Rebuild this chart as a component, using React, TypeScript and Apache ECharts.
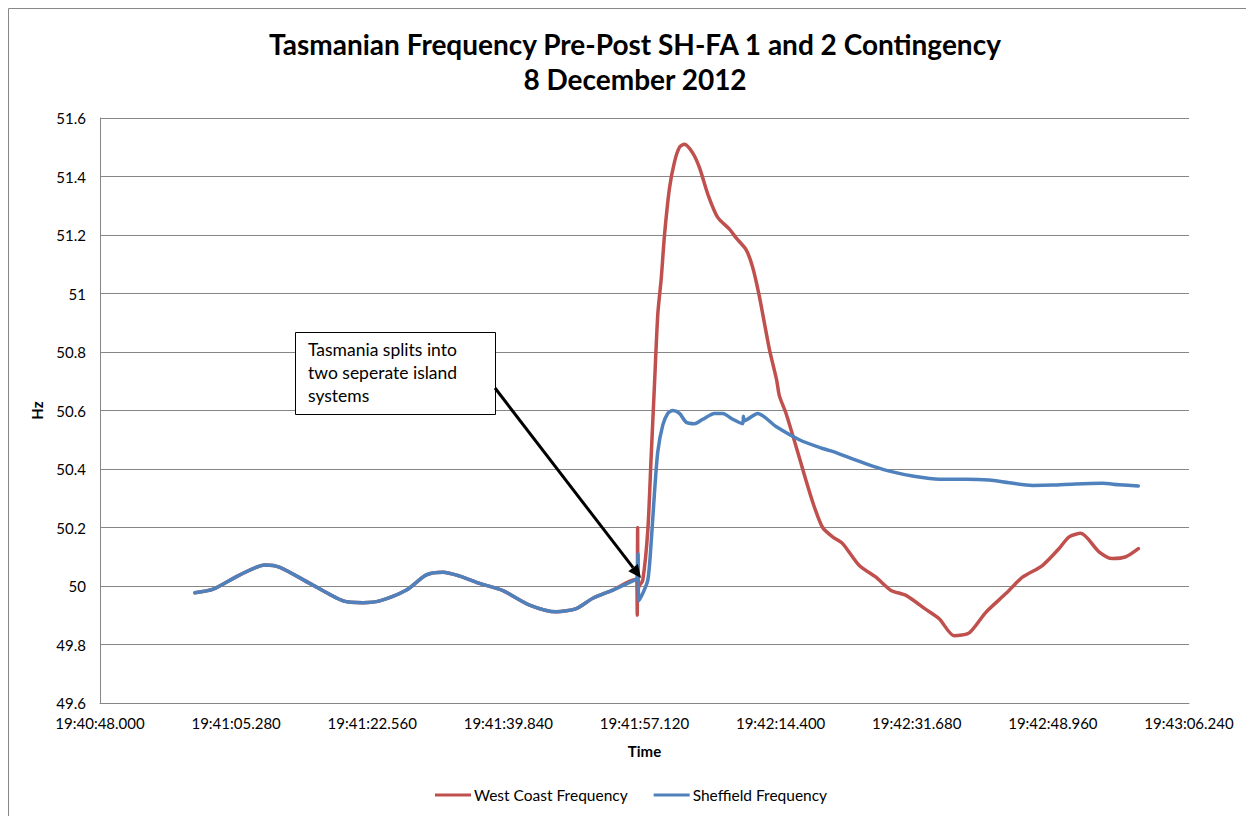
import React, { useEffect, useRef } from "react";
import * as echarts from "echarts";

// Time is stored as seconds after 19:40:48.000
const START_LABEL_SECONDS = 19 * 3600 + 40 * 60 + 48;
const X_MIN = 0;
const X_MAX = 138.24;
const X_INTERVAL = 17.28;
const Y_MIN = 49.6;
const Y_MAX = 51.6;
const Y_INTERVAL = 0.2;

// Before the split, both recorders read the same frequency
const preEventTimes = [12.05, 14.37, 17.76, 20.93, 22.83, 26.63, 30.86, 33.39, 35.51, 38.9, 41.43, 43.54, 45.66, 48.19, 51.15, 54.53, 57.92, 60.46, 62.56, 65.1, 68.07];
const preEventHz = [49.977, 49.989, 50.038, 50.072, 50.064, 50.009, 49.949, 49.943, 49.949, 49.986, 50.038, 50.047, 50.034, 50.009, 49.984, 49.935, 49.912, 49.923, 49.958, 49.986, 50.023];

const westCoastTimes = [68.15, 68.2, 68.25, 68.3, 68.45, 68.9, 69.54, 69.96, 70.39, 70.81, 71.24, 71.66, 72.29, 72.93, 73.56, 74.19, 75.25, 76.1, 77.15, 78.41, 79.9, 80.75, 82.01, 82.85, 83.7, 84.97, 85.89, 86.24, 87.09, 88.36, 89.63, 90.68, 91.73, 93.0, 94.27, 96.39, 98.5, 100.41, 102.31, 104.84, 106.53, 108.43, 110.34, 112.45, 114.99, 117.1, 119.63, 121.75, 123.02, 124.5, 126.82, 128.51, 130.21, 131.81];
const westCoastHz = [50.02, 49.9, 50.2, 49.99, 50.0, 50.02, 50.19, 50.44, 50.69, 50.93, 51.05, 51.2, 51.36, 51.45, 51.5, 51.51, 51.48, 51.43, 51.34, 51.26, 51.22, 51.19, 51.15, 51.09, 50.99, 50.81, 50.705, 50.65, 50.59, 50.477, 50.36, 50.27, 50.2, 50.168, 50.145, 50.07, 50.03, 49.985, 49.968, 49.92, 49.888, 49.83, 49.84, 49.91, 49.974, 50.03, 50.07, 50.128, 50.168, 50.18, 50.117, 50.094, 50.1, 50.128];

const sheffieldTimes = [68.2, 68.3, 68.4, 68.99, 69.54, 69.84, 70.39, 70.81, 71.44, 72.07, 72.71, 73.56, 74.41, 75.46, 76.52, 78.0, 79.05, 80.32, 81.59, 81.68, 81.8, 83.49, 85.82, 88.77, 91.73, 93.0, 95.97, 98.07, 100.61, 103.14, 106.53, 109.92, 112.87, 115.41, 118.36, 120.9, 123.87, 127.24, 129.36, 131.81];
const sheffieldHz = [50.03, 50.11, 49.95, 49.98, 50.02, 50.1, 50.32, 50.46, 50.55, 50.59, 50.6, 50.59, 50.56, 50.555, 50.57, 50.59, 50.59, 50.57, 50.555, 50.58, 50.565, 50.59, 50.545, 50.5, 50.47, 50.46, 50.43, 50.41, 50.39, 50.376, 50.365, 50.365, 50.362, 50.353, 50.344, 50.345, 50.349, 50.351, 50.346, 50.342];

const titleLines = ["Tasmanian Frequency Pre-Post SH-FA 1 and 2 Contingency", "8 December 2012"];
const annotationLines = ["Tasmania splits into", "two seperate island", "systems"];

const RED = "#C0504D";
const BLUE = "#4F81BD";
const GRID = "#868686";
const FONT = "Lato, 'Open Sans', sans-serif";

function pad(n: number, w: number) {
  let s = String(n);
  while (s.length < w) s = "0" + s;
  return s;
}

function formatTime(sec: number) {
  const ms = Math.round((START_LABEL_SECONDS + sec) * 1000);
  const h = Math.floor(ms / 3600000);
  const m = Math.floor((ms % 3600000) / 60000);
  const s = Math.floor((ms % 60000) / 1000);
  const milli = ms % 1000;
  return `${h}:${pad(m, 2)}:${pad(s, 2)}.${pad(milli, 3)}`;
}

function zip(t: number[], v: number[]) {
  return t.map((x, i) => [x, v[i]]);
}

export default function App() {
  const ref = useRef<HTMLDivElement>(null);

  useEffect(() => {
    if (!ref.current) return;
    const chart = echarts.init(ref.current, null, { renderer: "svg" });

    const westData = zip(preEventTimes, preEventHz).concat(zip(westCoastTimes, westCoastHz));
    const sheffData = zip(preEventTimes, preEventHz).concat(zip(sheffieldTimes, sheffieldHz));

    // arrow geometry (annotation)
    const ax0 = 495, ay0 = 388, ax1 = 641, ay1 = 578;
    const len = Math.hypot(ax1 - ax0, ay1 - ay0);
    const dx = (ax1 - ax0) / len, dy = (ay1 - ay0) / len;
    const px = -dy, py = dx;
    const headL = 13, headW = 6;
    const bx = ax1 - dx * headL, by = ay1 - dy * headL;

    const titleStyle = { fontFamily: FONT, fontSize: 28, fontWeight: "bold", color: "#000", lineHeight: 35 };

    chart.setOption({
      animation: false,
      backgroundColor: "#ffffff",
      textStyle: { fontFamily: FONT },
      title: titleLines.map((t, i) => ({
        text: t,
        left: 630,
        textAlign: "center",
        top: 21 + i * 35,
        padding: 5,
        textStyle: titleStyle,
      })),
      grid: { left: 100, right: 57, top: 118, bottom: 113, containLabel: false },
      legend: {
        bottom: 8,
        left: 430,
        padding: 5,
        icon: "rect",
        itemWidth: 36,
        itemHeight: 3,
        itemGap: 26,
        textStyle: { fontFamily: FONT, fontSize: 15.5, color: "#000", padding: [0, 0, 0, -2] },
        data: ["West Coast Frequency", "Sheffield Frequency"],
      },
      xAxis: {
        type: "value",
        min: X_MIN,
        max: X_MAX,
        interval: X_INTERVAL,
        name: "Time",
        nameLocation: "middle",
        nameGap: 40,
        nameTextStyle: { fontFamily: FONT, fontSize: 15, fontWeight: "bold", color: "#000" },
        axisLine: { lineStyle: { color: GRID, width: 1 } },
        axisTick: { show: false },
        splitLine: { show: false },
        axisLabel: {
          formatter: (v: number) => formatTime(v),
          fontFamily: FONT,
          fontSize: 15,
          color: "#000",
          margin: 12,
          showMaxLabel: true,
          showMinLabel: true,
        },
      },
      yAxis: {
        type: "value",
        min: Y_MIN,
        max: Y_MAX,
        interval: Y_INTERVAL,
        name: "Hz",
        nameLocation: "middle",
        nameGap: 56,
        nameRotate: 90,
        nameTextStyle: { fontFamily: FONT, fontSize: 15, fontWeight: "bold", color: "#000" },
        axisLine: { show: true, lineStyle: { color: GRID, width: 1 } },
        axisTick: { show: false },
        splitLine: { show: true, lineStyle: { color: GRID, width: 1 } },
        axisLabel: {
          formatter: (v: number) => String(Math.round(v * 10) / 10),
          fontFamily: FONT,
          fontSize: 15,
          color: "#000",
          margin: 14,
        },
      },
      series: [
        {
          name: "West Coast Frequency",
          type: "line",
          data: westData,
          showSymbol: false,
          symbol: "none",
          smooth: 0.25,
          color: RED,
          lineStyle: { color: RED, width: 3.5, join: "round", cap: "round" },
          z: 2,
        },
        {
          name: "Sheffield Frequency",
          type: "line",
          data: sheffData,
          showSymbol: false,
          symbol: "none",
          smooth: 0.25,
          color: BLUE,
          lineStyle: { color: BLUE, width: 3.5, join: "round", cap: "round" },
          z: 3,
        },
      ],
      graphic: [
        {
          type: "rect",
          z: -10,
          silent: true,
          shape: { x: 8.5, y: 8.5, width: 1400, height: 1000 },
          style: { fill: "none", stroke: "#878787", lineWidth: 1 },
        },
        {
          type: "rect",
          z: 100,
          shape: { x: 295.5, y: 332.5, width: 200, height: 82 },
          style: { fill: "#ffffff", stroke: "#000000", lineWidth: 1 },
        },
        {
          type: "text",
          z: 101,
          x: 308,
          y: 338,
          style: {
            text: annotationLines.join("\n"),
            fontFamily: FONT,
            fontSize: 17.5,
            lineHeight: 23,
            fill: "#000",
          },
        },
        {
          type: "line",
          z: 100,
          shape: { x1: ax0, y1: ay0, x2: bx, y2: by },
          style: { stroke: "#000", lineWidth: 3 },
        },
        {
          type: "polygon",
          z: 100,
          shape: {
            points: [
              [ax1, ay1],
              [bx + px * headW, by + py * headW],
              [bx - px * headW, by - py * headW],
            ],
          },
          style: { fill: "#000" },
        },
      ],
    });

    return () => chart.dispose();
  }, []);

  return (
    <div
      ref={ref}
      style={{ position: "fixed", left: 0, top: 0, width: 1246, height: 816 }}
    />
  );
}
